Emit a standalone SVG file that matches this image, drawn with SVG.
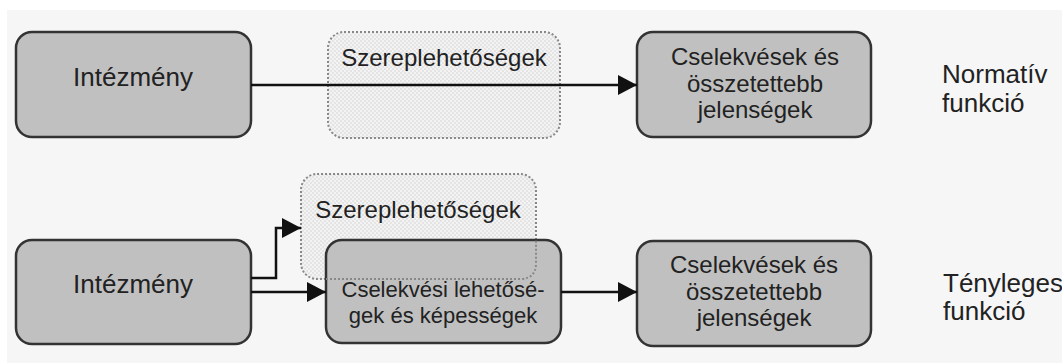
<svg xmlns="http://www.w3.org/2000/svg" width="1062" height="363" viewBox="0 0 1062 363">
<defs>
<pattern id="chk" width="4" height="4" patternUnits="userSpaceOnUse">
<rect width="4" height="4" fill="#f3f3f3"/>
<rect width="2" height="2" fill="#e4e4e4"/>
<rect x="2" y="2" width="2" height="2" fill="#e4e4e4"/>
</pattern>
<marker id="ah" markerWidth="20" markerHeight="20" refX="19" refY="10" orient="auto" markerUnits="userSpaceOnUse">
<path d="M0,0 L19,10 L0,20 Z" fill="#111"/>
</marker>
</defs>
<style>
.box{fill:#c0c0c0;stroke:#333;stroke-width:2.5}
.opt{fill:url(#chk);stroke:#888;stroke-width:2;stroke-dasharray:2 2}
.optline{fill:none;stroke:#888;stroke-width:2;stroke-dasharray:2 2}
.t{font-family:"Liberation Sans",Arial,sans-serif;font-size:24px;fill:#222;text-anchor:middle}
.big{font-size:26px}
.sm{font-size:22px}
.l{font-family:"Liberation Sans",Arial,sans-serif;font-size:26px;fill:#222}
.c{fill:none;stroke:#111;stroke-width:2.5}
</style>
<rect x="0" y="0" width="1062" height="363" fill="#fff"/>
<rect x="7" y="10" width="1055" height="353" fill="#f6f6f6"/>

<g id="top-intezmeny">
<rect class="box" x="16" y="32" width="235" height="105" rx="16"/>
<text class="t big" x="133" y="86">Intézmény</text>
</g>
<g id="top-szerep">
<rect class="opt" x="328" y="32" width="232" height="106" rx="16"/>
<text class="t" x="444" y="66">Szereplehetőségek</text>
</g>
<g id="top-cselekvesek">
<rect class="box" x="637" y="32" width="234" height="105" rx="16"/>
<text class="t" x="755" y="65">Cselekvések és</text>
<text class="t" x="755" y="92">összetettebb</text>
<text class="t" x="755" y="118">jelenségek</text>
</g>
<g id="label-normativ">
<text class="l" x="942" y="83">Normatív</text>
<text class="l" x="942" y="112">funkció</text>
</g>

<g id="bot-intezmeny">
<rect class="box" x="16" y="240" width="235" height="104" rx="16"/>
<text class="t big" x="133" y="293">Intézmény</text>
</g>
<g id="bot-szerep">
<rect class="opt" x="301" y="174" width="235" height="105" rx="16"/>
<text class="t" x="418" y="218">Szereplehetőségek</text>
</g>
<g id="bot-cselekvesi">
<rect class="box" x="326" y="240" width="235" height="103" rx="16"/>
<path class="optline" d="M326,279 L520,279 Q536,279 536,263 L536,240"/>
<text class="t sm" x="443" y="297">Cselekvési lehetősé-</text>
<text class="t sm" x="443" y="323">gek és képességek</text>
</g>
<g id="bot-cselekvesek">
<rect class="box" x="637" y="241" width="234" height="105" rx="16"/>
<text class="t" x="754" y="273">Cselekvések és</text>
<text class="t" x="754" y="300">összetettebb</text>
<text class="t" x="754" y="326">jelenségek</text>
</g>
<g id="label-tenyleges">
<text class="l" x="943" y="292">Tényleges</text>
<text class="l" x="943" y="320">funkció</text>
</g>

<g id="connectors">
<path class="c" d="M251,85 L637,85" marker-end="url(#ah)"/>
<path class="c" d="M251,278 L276,278 L276,228 L301,228" marker-end="url(#ah)"/>
<path class="c" d="M251,292 L326,292" marker-end="url(#ah)"/>
<path class="c" d="M561,292 L637,292" marker-end="url(#ah)"/>
</g>
</svg>
